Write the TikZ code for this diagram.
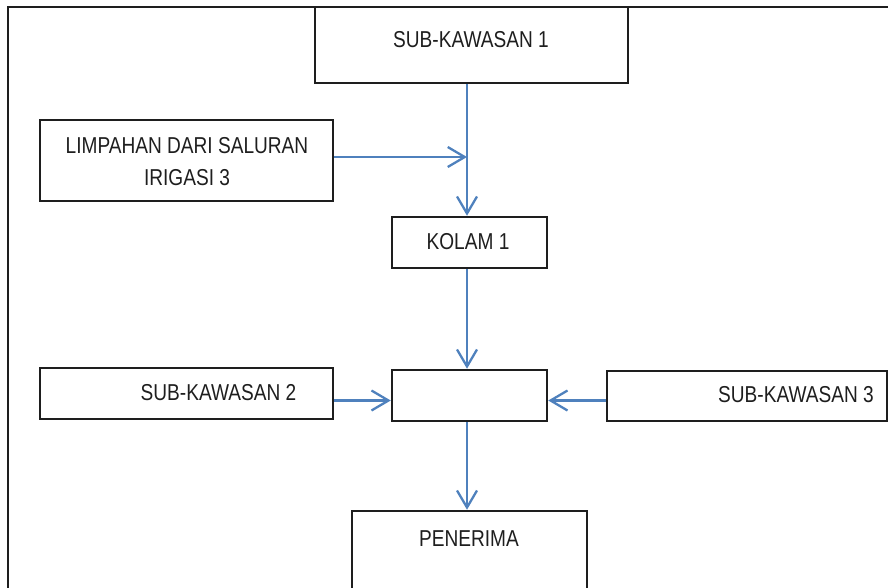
\documentclass[tikz,border=0pt]{standalone}
\usepackage{fontspec}
\setmainfont{Liberation Sans}[FakeStretch=0.83]
\usetikzlibrary{arrows.meta}
\definecolor{flowblue}{RGB}{79,129,189}
\definecolor{ink}{RGB}{30,30,30}
\begin{document}
\begin{tikzpicture}[x=1pt,y=-1pt,
  box/.style={draw=ink,line width=2.5pt,inner sep=0pt,rectangle},
  lbl/.style={anchor=base,inner sep=0pt,text=ink,font=\fontsize{23}{32}\selectfont},
  flow/.style={draw=flowblue,line width=2.3pt,-{Straight Barb[length=17pt,width=20pt]}},
  plain/.style={draw=flowblue,line width=2.3pt}]
\useasboundingbox (0,0) rectangle (888,587);
\clip (0,0) rectangle (888,587);
% outer frame
\coordinate (fa) at (895,7);
\coordinate (fb) at (8,7);
\coordinate (fc) at (8,595);
\draw[ink,line width=2.2pt] (fa) -- (fb) -- (fc);
% boxes
\node[box,minimum width=313pt,minimum height=76pt] (sk1) at (471.5,45) {};
\node[box,minimum width=293pt,minimum height=81pt] (limp) at (186.5,160.5) {};
\node[box,minimum width=155pt,minimum height=51pt] (kolam) at (469.5,242.5) {};
\node[box,minimum width=155pt,minimum height=51pt] (mid) at (469.5,395.5) {};
\node[box,minimum width=293pt,minimum height=51pt] (sk2) at (186.5,393.5) {};
\node[box,minimum width=280pt,minimum height=50pt] (sk3) at (747,396) {};
\node[box,minimum width=235pt,minimum height=110pt] (pen) at (469.5,566) {};
% labels
\node[lbl] (sk1t) at (471,47) {SUB-KAWASAN 1};
\node[lbl] (limpt1) at (187,153) {LIMPAHAN DARI SALURAN};
\node[lbl] (limpt2) at (187,185) {IRIGASI 3};
\node[lbl] (kolamt) at (468,249) {KOLAM 1};
\node[lbl] (sk2t) at (218.5,400) {SUB-KAWASAN 2};
\node[lbl] (sk3t) at (796,402) {SUB-KAWASAN 3};
\node[lbl] (pent) at (469,546) {PENERIMA};
% connectors
\coordinate (axis) at (467,0);
\coordinate (hl) at (0,157);
\coordinate (hm) at (0,400.5);
\coordinate (j) at (axis |- hl);
\draw[flow] (limp.east |- hl) -- (j);
\draw[flow] (sk1.south -| axis) -- (kolam.north -| axis);
\draw[flow] (kolam.south -| axis) -- (mid.north -| axis);
\draw[flow] (sk2.east |- hm) -- (mid.west |- hm);
\draw[flow] (sk3.west |- hm) -- (mid.east |- hm);
\draw[flow] (mid.south -| axis) -- (pen.north -| axis);
\end{tikzpicture}
\end{document}
